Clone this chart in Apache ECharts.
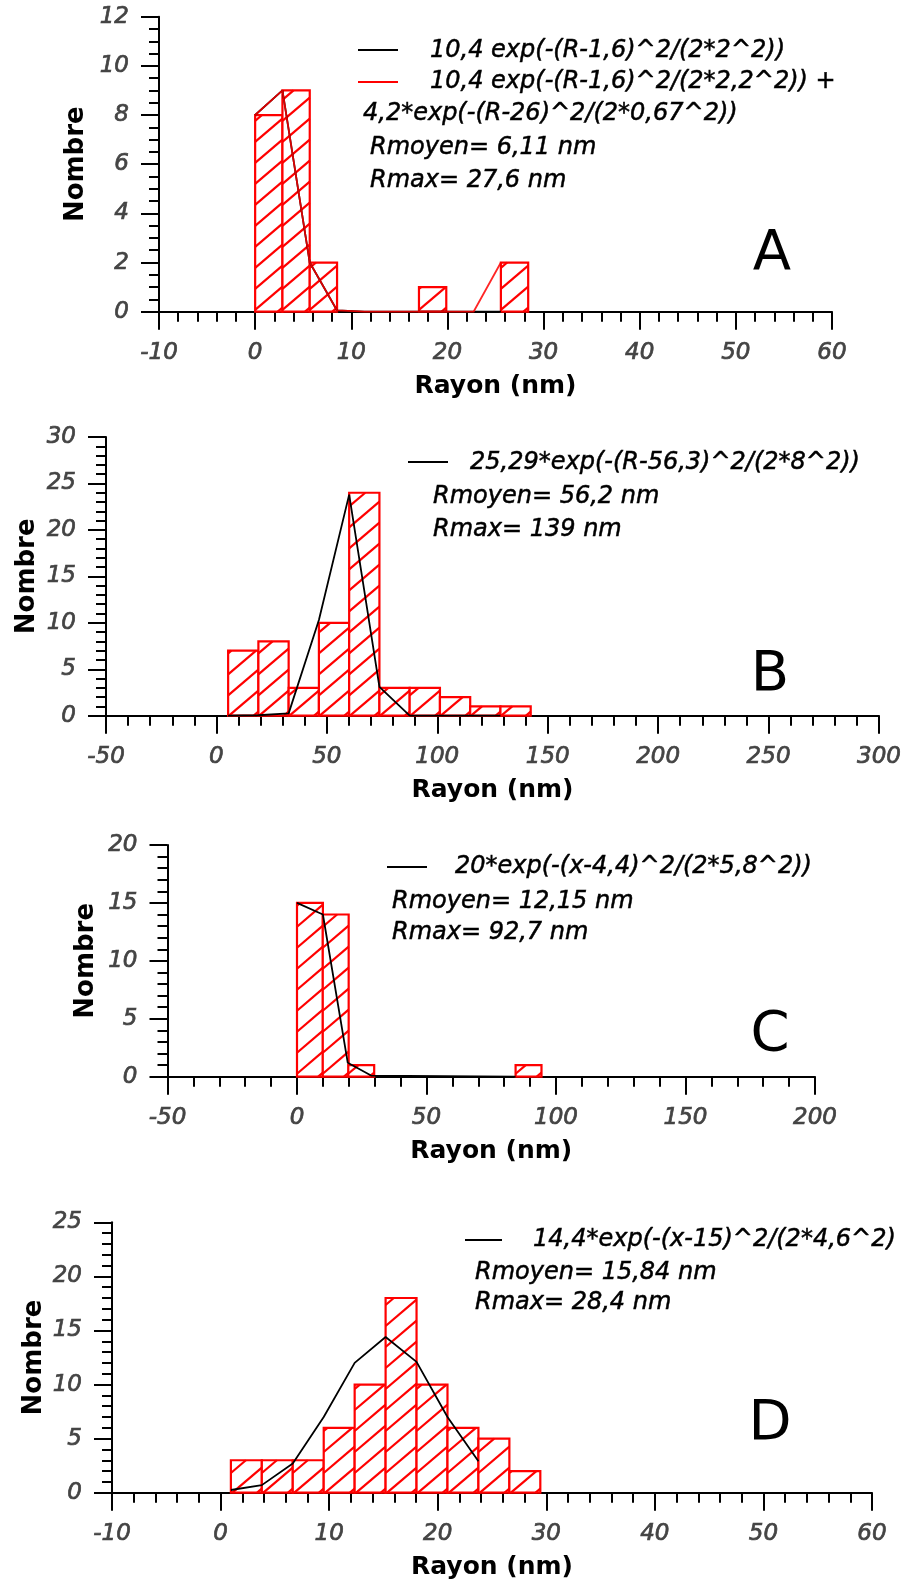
<!DOCTYPE html>
<html><head><meta charset="utf-8">
<script src="https://cdn.jsdelivr.net/npm/echarts@6/dist/echarts.min.js"></script>
<style>html,body{margin:0;padding:0;background:#fff}#c{width:908px;height:1579px}</style>
</head><body><div id="c"></div>
<script>
// ---------- DATA ----------
// Panel A
const binLeftA = [0, 2.84, 5.68, 17.04, 25.56];
const binWidthA = 2.84;
const countsA = [8, 9, 2, 1, 2];
const fitBlackXA = [0, 2.84, 5.68, 8.52, 11.36, 14.2, 17.04, 19.88, 22.72, 25.56];
const fitBlackYA = [8, 9, 2, 0.05, 0, 0, 0, 0, 0, 0];
const fitRedXA = [0, 2.84, 5.68, 8.52, 11.36, 14.2, 17.04, 19.88, 22.72, 25.56];
const fitRedYA = [8, 9, 2, 0.05, 0, 0, 0, 0, 0, 2];
const legendA = ["10,4 exp(-(R-1,6)^2/(2*2^2))", "10,4 exp(-(R-1,6)^2/(2*2,2^2)) +", "4,2*exp(-(R-26)^2/(2*0,67^2))", "Rmoyen= 6,11 nm", "Rmax= 27,6 nm"];
// Panel B
const binLeftB = [5.3, 19.0, 32.7, 46.4, 60.1, 73.8, 87.5, 101.2, 114.9, 128.6];
const binWidthB = 13.7;
const countsB = [7, 8, 3, 10, 24, 3, 3, 2, 1, 1];
const fitXB = [5.3, 19.0, 32.7, 46.4, 60.1, 73.8, 87.5, 101.2, 114.9, 128.6];
const fitYB = [0, 0.05, 0.25, 10.3, 23.8, 3.1, 0, 0, 0, 0];
const legendB = ["25,29*exp(-(R-56,3)^2/(2*8^2))", "Rmoyen= 56,2 nm", "Rmax= 139 nm"];
// Panel C
const binLeftC = [0, 9.95, 19.8, 84.4];
const binWidthC = 10;
const countsC = [15, 14, 1, 1];
const fitXC = [0, 10, 19.6, 28.6, 84.4];
const fitYC = [15, 14, 1.2, 0.1, 0];
const legendC = ["20*exp(-(x-4,4)^2/(2*5,8^2))", "Rmoyen= 12,15 nm", "Rmax= 92,7 nm"];
// Panel D
const binLeftD = [0.95, 3.8, 6.65, 9.5, 12.35, 15.2, 18.05, 20.9, 23.75, 26.6];
const binWidthD = 2.85;
const countsD = [3, 3, 3, 6, 10, 18, 10, 6, 5, 2];
const fitXD = [0.95, 3.8, 6.65, 9.5, 12.35, 15.2, 18.05, 20.9, 23.75];
const fitYD = [0.25, 0.7, 2.7, 7.0, 12.0, 14.4, 12.1, 7.0, 2.9];
const legendD = ["14,4*exp(-(x-15)^2/(2*4,6^2))", "Rmoyen= 15,84 nm", "Rmax= 28,4 nm"];
// Axes
const xRanges = [[-10, 60, 10], [-50, 300, 50], [-50, 200, 50], [-10, 60, 10]];
const yRanges = [[0, 12, 2, 4], [0, 30, 5, 5], [0, 20, 5, 5], [0, 25, 5, 5]];
const panelLetters = ["A", "B", "C", "D"];

// ---------- LAYOUT ----------
const FONT = 'DejaVu Sans';
const RED = '#ff0000';
const grids = [
  {left: 159, top: 16.7, width: 673, height: 295},
  {left: 106, top: 437, width: 773, height: 278.7},
  {left: 167.5, top: 845, width: 647.5, height: 231.7},
  {left: 112, top: 1222.3, width: 760, height: 270.4}
];
const yNameGap = [83, 79, 81.5, 78];
const letterPos = [[772, 254], [770, 675], [770, 1035], [770, 1424]];

function hatchRender(params, api) {
  const l = api.value(0), r = api.value(1), v = api.value(2);
  const p0 = api.coord([l, 0]);
  const p1 = api.coord([r, v]);
  const x0 = p0[0], yb = p0[1], x1 = p1[0], yt = p1[1];
  const children = [{type: 'rect', shape: {x: x0, y: yt, width: x1 - x0, height: yb - yt}, style: {fill: '#fff', stroke: null}}];
  const m = 0.85, s = 21;
  for (let c = yb + m * (x1 - x0) - 4; c > yt; c -= s) {
    const xa = Math.max(x0, x0 + (c - yb) / m);
    const xb = Math.min(x1, x0 + (c - yt) / m);
    if (xb - xa > 0.5) {
      children.push({type: 'line', shape: {x1: xa, y1: c - m * (xa - x0), x2: xb, y2: c - m * (xb - x0)}, style: {stroke: RED, lineWidth: 2.2}});
    }
  }
  children.push({type: 'rect', shape: {x: x0, y: yt, width: x1 - x0, height: yb - yt}, style: {fill: null, stroke: RED, lineWidth: 2.2}});
  return {type: 'group', children};
}

function barData(left, width, counts) { return left.map((x, k) => [x, x + width, counts[k]]); }
function lineData(xs, ys) { return xs.map((x, k) => [x, ys[k]]); }

const tickLabelStyle = {fontFamily: FONT, fontStyle: 'italic', fontSize: 23, color: '#444444', textBorderColor: '#444444', textBorderWidth: 0.7, showMinLabel: true, showMaxLabel: true, hideOverlap: false};

const option = {animation: false, grid: [], xAxis: [], yAxis: [], series: [], graphic: []};
grids.forEach((g, i) => {
  option.grid.push(Object.assign({containLabel: false, outerBoundsMode: 'none'}, g));
  const xr = xRanges[i], yr = yRanges[i];
  option.xAxis.push({
    type: 'value', gridIndex: i, min: xr[0], max: xr[1], interval: xr[2],
    name: 'Rayon (nm)', nameLocation: 'middle', nameGap: 75, nameMoveOverlap: false,
    nameTextStyle: {fontFamily: FONT, fontWeight: 'bold', fontSize: 25, color: '#000', verticalAlign: 'middle'},
    splitLine: {show: false},
    axisLine: {show: true, onZero: false, lineStyle: {color: '#000', width: 2}},
    axisTick: {show: true, inside: false, length: 18, lineStyle: {color: '#000', width: 2}},
    minorTick: {show: true, splitNumber: 5, length: 10, lineStyle: {color: '#000', width: 2}},
    axisLabel: Object.assign({margin: 30}, tickLabelStyle)
  });
  option.yAxis.push({
    type: 'value', gridIndex: i, min: yr[0], max: yr[1], interval: yr[2],
    name: 'Nombre', nameLocation: 'middle', nameGap: yNameGap[i], nameRotate: 90, nameMoveOverlap: false,
    nameTextStyle: {fontFamily: FONT, fontWeight: 'bold', fontSize: 26, color: '#000', verticalAlign: 'middle'},
    splitLine: {show: false},
    axisLine: {show: true, onZero: false, lineStyle: {color: '#000', width: 2}},
    axisTick: {show: true, inside: false, length: 18, lineStyle: {color: '#000', width: 2}},
    minorTick: {show: true, splitNumber: yr[3], length: 10, lineStyle: {color: '#000', width: 2}},
    axisLabel: Object.assign({margin: 30}, tickLabelStyle)
  });
});
option.graphic = panelLetters.map((t, i) => ({type: 'text', x: letterPos[i][0], y: letterPos[i][1], style: {text: t, font: '56px "' + FONT + '"', fill: '#000', align: 'center', verticalAlign: 'middle'}}));

function addBars(i, name, left, width, counts) {
  option.series.push({type: 'custom', name, xAxisIndex: i, yAxisIndex: i, data: barData(left, width, counts), renderItem: hatchRender, encode: {x: [0, 1], y: 2}, z: 2, clip: false});
}
function addLine(i, name, xs, ys, color, opacity) {
  option.series.push({type: 'line', name, xAxisIndex: i, yAxisIndex: i, data: lineData(xs, ys), symbol: 'none', lineStyle: {color, width: 1.8, opacity: opacity || 1}, z: 5, clip: false});
}
addBars(0, 'Histogramme A', binLeftA, binWidthA, countsA);
addLine(0, legendA[0], fitBlackXA, fitBlackYA, '#000');
addLine(0, legendA[1] + ' ' + legendA[2], fitRedXA, fitRedYA, RED, 0.85);
addBars(1, 'Histogramme B', binLeftB, binWidthB, countsB);
addLine(1, legendB[0], fitXB, fitYB, '#000');
addBars(2, 'Histogramme C', binLeftC, binWidthC, countsC);
addLine(2, legendC[0], fitXC, fitYC, '#000');
addBars(3, 'Histogramme D', binLeftD, binWidthD, countsD);
addLine(3, legendD[0], fitXD, fitYD, '#000');

// legend graphics
function legLine(x1, x2, y, color) {
  option.graphic.push({type: 'line', shape: {x1, y1: y, x2, y2: y}, style: {stroke: color, lineWidth: 1.8}});
}
function legText(t, x, y, w) {
  const st = {text: t, font: 'italic 24px "' + FONT + '"', fill: '#000', stroke: '#000', lineWidth: 0.5, align: 'left', verticalAlign: 'middle'};
  if (w) { st.width = w; st.overflow = 'truncate'; st.ellipsis = ''; }
  option.graphic.push({type: 'text', x, y, style: st});
}
legLine(358, 398, 50, '#000'); legLine(358, 398, 82, RED);
legText(legendA[0], 430, 51); legText(legendA[1], 430, 82); legText(legendA[2], 363, 114);
legText(legendA[3], 370, 148); legText(legendA[4], 370, 181);
legLine(408, 448, 462, '#000');
legText(legendB[0], 470, 463); legText(legendB[1], 433, 497); legText(legendB[2], 433, 530);
legLine(387, 427, 867, '#000');
legText(legendC[0], 455, 867); legText(legendC[1], 392, 902); legText(legendC[2], 392, 933);
legLine(465, 502, 1240, '#000');
legText(legendD[0], 533, 1240, 366); legText(legendD[1], 475, 1273); legText(legendD[2], 475, 1303);

const chart = echarts.init(document.getElementById('c'), null, {renderer: 'canvas'});
chart.setOption(option);
</script></body></html>
